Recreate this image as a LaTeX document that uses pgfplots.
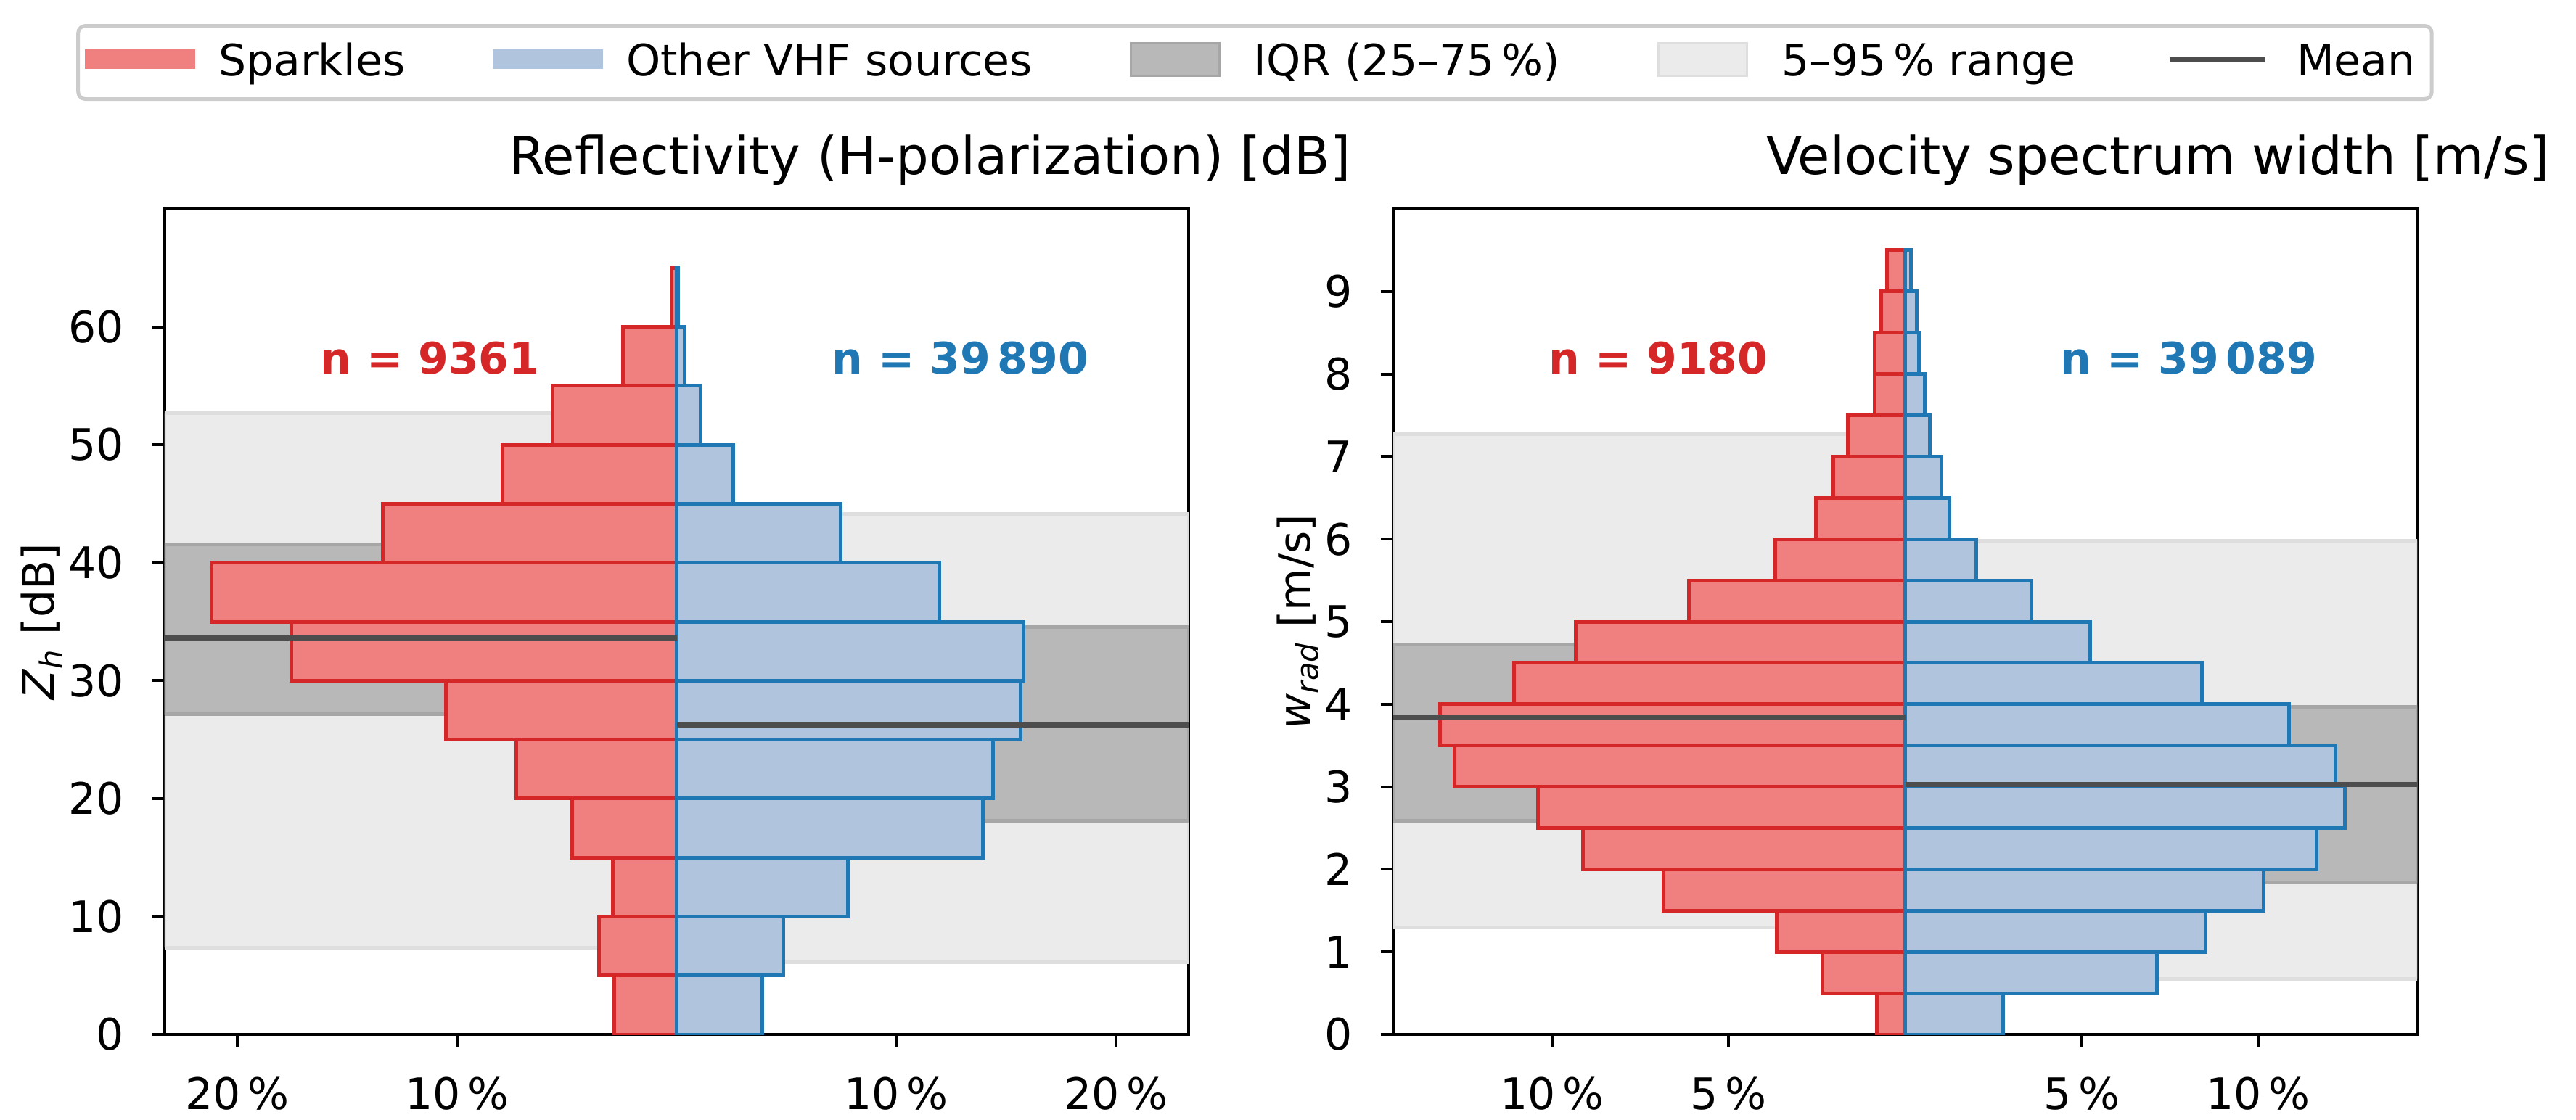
\documentclass[border=0pt]{standalone}
\usepackage{pgfplots}
\pgfplotsset{compat=1.18}
\usepackage{fontspec}
\setmainfont{DejaVu Sans}
\definecolor{redface}{HTML}{F08080}
\definecolor{rededge}{HTML}{D62728}
\definecolor{blueface}{HTML}{B0C4DE}
\definecolor{blueedge}{HTML}{1F77B4}
\definecolor{iqrface}{HTML}{B8B8B8}
\definecolor{iqredge}{HTML}{A6A6A6}
\definecolor{rngface}{HTML}{EBEBEB}
\definecolor{rngedge}{HTML}{DEDEDE}
\definecolor{meancol}{HTML}{4D4D4D}
\definecolor{leggray}{HTML}{CCCCCC}

\pgfplotsset{
  panel/.style={
    scale only axis, width=338.64pt, height=273.12pt,
    axis line style={line width=0.96pt},
    tick align=outside, tick style={line width=0.96pt, black}, major tick length=4.2pt,
    xtick pos=bottom, ytick pos=left,
    ticklabel style={font=\fontsize{14.4}{17}\selectfont},
    /pgf/number format/assume math mode=true,
    yticklabel style={anchor=east, inner sep=0pt, xshift=-9.1pt},
    xticklabel style={anchor=north, inner sep=0pt, yshift=-9.8pt},
    label style={font=\fontsize{14.4}{17}\selectfont},
    ylabel style={yshift=-1.5pt},
    title style={font=\fontsize{17.3}{20}\selectfont, at={(0.747,1)}, anchor=base, yshift=5.52pt, inner sep=0pt},
  },
  hbar/.style={xbar interval, line width=1.2pt, forget plot},
}

\begin{document}
\begin{tikzpicture}
\useasboundingbox (0,0) rectangle (852pt,370.32pt);

% ---------------- Left panel ----------------
\begin{axis}[panel, at={(54.48pt,28.08pt)}, anchor=south west,
  xmin=-23.3, xmax=23.3, ymin=0, ymax=70,
  xtick={-20,-10,10,20}, xticklabels={20\,\%,10\,\%,10\,\%,20\,\%},
  ytick={0,10,20,30,40,50,60},
  ylabel={\textit{Z}\textsubscript{\textit{h}} [dB]},
  title={Reflectivity (H-polarization) [dB]},
  legend columns=5,
  legend style={at={(1.0648,1.1775)}, anchor=center, draw=leggray, line width=1.2pt,
    rounded corners=2.4pt, inner xsep=5.4pt, inner ysep=3pt,
    font=\fontsize{14.4}{17}\selectfont,
    /tikz/every even column/.append style={column sep=32.2pt},
    /tikz/every odd column/.append style={column sep=11pt},
    cells={anchor=base west},
    nodes={inner sep=0pt, text height=13.44pt, text depth=4.8pt}},
]
\addlegendimage{legend image code/.code={
  \path[draw=none, fill=none] (0pt,0pt) rectangle (30pt,10.8pt);
  \fill[redface, sharp corners, overlay] (-2.64pt,2.76pt) rectangle (32.64pt,8.04pt);}}
\addlegendentry{Sparkles}
\addlegendimage{legend image code/.code={
  \path[draw=none, fill=none] (0pt,0pt) rectangle (30pt,10.8pt);
  \fill[blueface, sharp corners, overlay] (-2.64pt,2.76pt) rectangle (32.64pt,8.04pt);}}
\addlegendentry{Other VHF sources}
\addlegendimage{legend image code/.code={
  \path[draw=none, fill=none] (0pt,0pt) rectangle (30pt,10.8pt);
  \filldraw[fill=iqrface, draw=iqredge, line width=0.72pt, sharp corners, overlay] (0.36pt,0pt) rectangle (29.64pt,10.8pt);}}
\addlegendentry{IQR (25–75\,\%)}
\addlegendimage{legend image code/.code={
  \path[draw=none, fill=none] (0pt,0pt) rectangle (30pt,10.8pt);
  \filldraw[fill=rngface, draw=rngedge, line width=0.72pt, sharp corners, overlay] (0.36pt,0pt) rectangle (29.64pt,10.8pt);}}
\addlegendentry{5–95\,\% range}
\addlegendimage{legend image code/.code={
  \path[draw=none, fill=none] (0pt,0pt) rectangle (30pt,10.8pt);
  \draw[meancol, line width=1.7pt, sharp corners, overlay] (-0.7pt,5.4pt) -- (30.7pt,5.4pt);}}
\addlegendentry{Mean}

% 5-95 ranges
\addplot[fill=rngface, draw=rngedge, line width=1.2pt, forget plot] coordinates {(-23.3,7.37) (0,7.37) (0,52.67) (-23.3,52.67) (-23.3,7.37)};
\addplot[fill=rngface, draw=rngedge, line width=1.2pt, forget plot] coordinates {(0,6.15) (23.3,6.15) (23.3,44.13) (0,44.13) (0,6.15)};
% IQR
\addplot[fill=iqrface, draw=iqredge, line width=1.2pt, forget plot] coordinates {(-23.3,27.15) (0,27.15) (0,41.54) (-23.3,41.54) (-23.3,27.15)};
\addplot[fill=iqrface, draw=iqredge, line width=1.2pt, forget plot] coordinates {(0,18.1) (23.3,18.1) (23.3,34.52) (0,34.52) (0,18.1)};
% histograms
\addplot[hbar, fill=redface, draw=rededge] coordinates {
(-2.83,0) (-3.55,5) (-2.90,10) (-4.77,15) (-7.31,20) (-10.50,25) (-17.53,30)
(-21.18,35) (-13.37,40) (-7.92,45) (-5.66,50) (-2.44,55) (-0.22,60) (0,65)};
\addplot[hbar, fill=blueface, draw=blueedge] coordinates {
(3.91,0) (4.87,5) (7.78,10) (13.94,15) (14.41,20) (15.66,25) (15.77,30)
(11.97,35) (7.46,40) (2.58,45) (1.08,50) (0.36,55) (0.07,60) (0,65)};
% means
\addplot[meancol, line width=1.7pt, forget plot] coordinates {(-23.3,33.6) (0,33.6)};
\addplot[meancol, line width=1.7pt, forget plot] coordinates {(0,26.23) (23.3,26.23)};
\node[font=\fontsize{14.4}{17}\selectfont\bfseries, text=rededge, inner sep=0pt] at (rel axis cs:0.259,0.819) {n = 9361};
\node[font=\fontsize{14.4}{17}\selectfont\bfseries, text=blueedge, inner sep=0pt] at (rel axis cs:0.777,0.819) {n = 39\,890};
\end{axis}

% ---------------- Right panel ----------------
\begin{axis}[panel, at={(460.8pt,28.08pt)}, anchor=south west,
  xmin=-14.5, xmax=14.5, ymin=0, ymax=10,
  xtick={-10,-5,5,10}, xticklabels={10\,\%,5\,\%,5\,\%,10\,\%},
  ytick={0,1,2,3,4,5,6,7,8,9},
  ylabel={\textit{w}\textsubscript{\textit{rad}} [m/s]},
  title={Velocity spectrum width [m/s]},
]
\addplot[fill=rngface, draw=rngedge, line width=1.2pt, forget plot] coordinates {(-14.5,1.30) (0,1.30) (0,7.27) (-14.5,7.27) (-14.5,1.30)};
\addplot[fill=rngface, draw=rngedge, line width=1.2pt, forget plot] coordinates {(0,0.676) (14.5,0.676) (14.5,5.98) (0,5.98) (0,0.676)};
\addplot[fill=iqrface, draw=iqredge, line width=1.2pt, forget plot] coordinates {(-14.5,2.59) (0,2.59) (0,4.72) (-14.5,4.72) (-14.5,2.59)};
\addplot[fill=iqrface, draw=iqredge, line width=1.2pt, forget plot] coordinates {(0,1.84) (14.5,1.84) (14.5,3.97) (0,3.97) (0,1.84)};
\addplot[hbar, fill=redface, draw=rededge] coordinates {
(-0.80,0) (-2.35,0.5) (-3.64,1) (-6.84,1.5) (-9.13,2) (-10.39,2.5) (-12.77,3) (-13.18,3.5)
(-11.07,4) (-9.34,4.5) (-6.12,5) (-3.67,5.5) (-2.52,6) (-2.04,6.5) (-1.63,7) (-0.87,7.5)
(-0.87,8) (-0.68,8.5) (-0.51,9) (0,9.5)};
\addplot[hbar, fill=blueface, draw=blueedge] coordinates {
(2.77,0) (7.14,0.5) (8.50,1) (10.15,1.5) (11.65,2) (12.45,2.5) (12.18,3) (10.87,3.5)
(8.40,4) (5.24,4.5) (3.57,5) (2.01,5.5) (1.26,6) (1.02,6.5) (0.70,7) (0.56,7.5)
(0.39,8) (0.32,8.5) (0.17,9) (0,9.5)};
\addplot[meancol, line width=1.7pt, forget plot] coordinates {(-14.5,3.84) (0,3.84)};
\addplot[meancol, line width=1.7pt, forget plot] coordinates {(0,3.03) (14.5,3.03)};
\node[font=\fontsize{14.4}{17}\selectfont\bfseries, text=rededge, inner sep=0pt] at (rel axis cs:0.259,0.819) {n = 9180};
\node[font=\fontsize{14.4}{17}\selectfont\bfseries, text=blueedge, inner sep=0pt] at (rel axis cs:0.777,0.819) {n = 39\,089};
\end{axis}
\end{tikzpicture}
\end{document}
